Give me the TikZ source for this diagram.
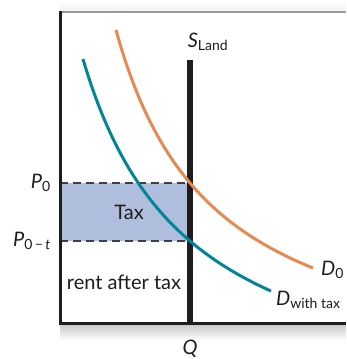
\documentclass[tikz,border=0pt]{standalone}
\usepackage{fontspec}
\setmainfont{Lato}
\definecolor{dorange}{RGB}{228,138,82}
\definecolor{dteal}{RGB}{0,133,153}
\definecolor{taxblue}{RGB}{176,190,221}
\definecolor{axisblack}{RGB}{30,28,28}
\tikzset{
  lbl/.style={font=\fontsize{20}{24}\selectfont, inner sep=0pt, text=axisblack},
  dashline/.style={draw=axisblack!85, line width=1.3pt, dash pattern=on 8pt off 5pt},
  curve/.style={line width=3pt, line cap=butt},
}
\begin{document}
\begin{tikzpicture}[x=1pt,y=-1pt]
\useasboundingbox (0,0) rectangle (346,359);
% shadow under the frame
\shade[top color=black!22, bottom color=white] (60,324) rectangle (346,340);
\shade[top color=white, bottom color=black!5] (60,0) rectangle (346,11);
% tax area
\fill[taxblue] (60,183) rectangle (190,241);
\draw[dashline] (60,183) -- (190,183);
\draw[dashline] (60,241) -- (190,241);
% frame
\draw[black!40, line width=1.5pt] (60,12) -- (346,12);
\draw[axisblack, line width=3pt] (60,11) -- (60,323) -- (346,323);
% supply
\coordinate (stop) at (190,60);
\coordinate (sbot) at (190,323);
\draw[axisblack, line width=5.5pt] (stop) -- (sbot);
% demand curves
\draw[curve, dorange] plot[domain=116:313, samples=80, smooth] (\x, {387.5 - 353.55/((\x-17.1)/100)});
\draw[curve, dteal] plot[domain=83:271, samples=80, smooth] (\x, {423.2 - 390.03/((\x+24.1)/100)});
% labels
\node[lbl, anchor=south] (sland) at (208,51) {\textit{S}\textsubscript{Land}};
\node[lbl, anchor=east] (pzero) at (51,183) {\textit{P}\textsubscript{0}};
\node[lbl, anchor=east] (pzt) at (51,241) {\textit{P}\textsubscript{0\,−\,\textit{t}}};
\node[lbl] (tax) at (129,212) {Tax};
\node[lbl] (rent) at (124,282) {rent after tax};
\node[lbl, anchor=west] (dzero) at (321,270) {\textit{D}\textsubscript{0}};
\node[lbl, anchor=west] (dtax) at (276,300) {\textit{D}\textsubscript{with tax}};
\node[lbl] (q) at (190,349) {\textit{Q}};
\end{tikzpicture}
\end{document}
